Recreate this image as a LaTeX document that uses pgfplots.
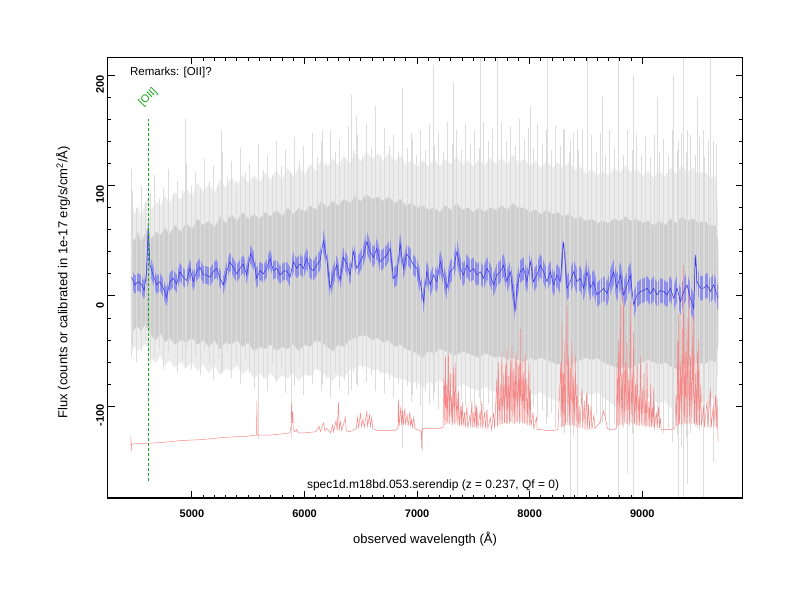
\documentclass[border=0pt]{standalone}
\usepackage{fontspec}
\setmainfont{Liberation Sans}
\usepackage{pgfplots}
\pgfplotsset{compat=1.18}
\usepackage{pgfplotstable}
\usepgfplotslibrary{fillbetween}

\definecolor{grayout}{RGB}{236,236,236}
\definecolor{grayin}{RGB}{206,206,206}
\definecolor{grayspike}{RGB}{220,220,220}
\definecolor{bandblue}{RGB}{142,142,236}
\definecolor{lineblue}{RGB}{50,50,228}
\definecolor{skyred}{RGB}{246,136,136}
\definecolor{oiigreen}{RGB}{25,165,25}

% gray raw spectrum envelopes: outer-upper, inner-upper, inner-lower, outer-lower
\pgfplotstableread{
lam ou iu il ol
4458 40 30 -20 -30
4462 115 55 -35 -55
4490 80 50 -30 -50
4520 90 58 -28 -58
4550 78 48 -32 -52
4580 95 56 -26 -48
4610 100 62 -30 -55
4640 88 52 -36 -66
4680 98 58 -40 -70
4720 92 55 -34 -62
4760 104 62 -42 -72
4800 95 56 -38 -66
4850 108 64 -44 -74
4900 100 58 -40 -68
4950 114 66 -42 -76
5000 104 60 -38 -70
5050 120 70 -44 -80
5100 110 64 -40 -72
5150 118 68 -46 -82
5200 108 62 -40 -74
5250 124 72 -48 -84
5300 114 66 -42 -78
5350 126 74 -44 -80
5400 116 68 -40 -74
5450 128 76 -46 -84
5500 118 70 -42 -78
5550 130 74 -50 -88
5600 120 70 -46 -82
5650 132 76 -48 -90
5700 122 72 -44 -84
5750 134 78 -50 -92
5800 124 72 -46 -86
5850 136 80 -48 -90
5900 126 74 -44 -84
5950 138 80 -50 -92
6000 128 76 -44 -86
6050 142 82 -46 -88
6100 132 78 -40 -80
6150 146 86 -42 -84
6200 136 80 -46 -88
6250 148 86 -50 -92
6300 138 82 -44 -86
6350 150 88 -46 -90
6400 140 84 -40 -82
6450 152 90 -38 -80
6500 142 86 -36 -78
6550 154 92 -36 -80
6600 144 88 -40 -82
6650 152 90 -38 -84
6700 142 86 -42 -86
6750 154 90 -40 -88
6800 144 84 -46 -90
6850 150 88 -44 -94
6900 140 82 -48 -92
6950 146 84 -50 -96
7000 138 80 -52 -92
7050 148 82 -56 -98
7100 140 78 -50 -94
7150 152 80 -52 -96
7200 142 76 -48 -92
7250 150 82 -50 -98
7300 144 78 -52 -100
7350 154 84 -54 -102
7400 144 78 -50 -96
7450 150 80 -52 -100
7500 142 76 -54 -102
7550 152 80 -56 -104
7600 144 76 -52 -100
7650 154 80 -54 -104
7700 146 78 -56 -106
7750 152 82 -54 -108
7800 144 78 -58 -110
7850 156 84 -56 -112
7900 146 80 -58 -108
7950 152 80 -60 -112
8000 144 76 -56 -106
8050 150 78 -58 -110
8100 142 74 -56 -106
8150 150 78 -58 -112
8200 142 74 -60 -114
8250 150 76 -62 -118
8300 144 72 -60 -116
8350 152 74 -64 -122
8400 142 70 -60 -116
8450 146 72 -58 -112
8500 138 68 -56 -108
8550 144 70 -58 -110
8600 136 66 -56 -106
8650 142 68 -60 -112
8700 136 66 -62 -116
8750 146 70 -64 -122
8800 140 68 -66 -126
8850 148 72 -64 -124
8900 140 68 -66 -128
8950 144 70 -62 -120
9000 136 66 -60 -116
9050 142 68 -58 -114
9100 134 64 -60 -118
9150 142 68 -62 -120
9200 136 64 -60 -118
9250 146 70 -64 -126
9300 140 66 -66 -130
9350 148 72 -68 -132
9400 140 68 -64 -126
9450 146 70 -62 -122
9500 138 66 -60 -118
9550 142 68 -62 -120
9600 134 64 -58 -114
9650 138 64 -60 -116
9672 90 50 -45 -80
9676 40 20 -20 -40
}\grayenv

% streaks of the raw spectrum: low and high end of each vertical stroke
\pgfplotstableread{
lam lo hi
4470 -45 95
4510 -60 80
4550 -50 100
4590 -40 85
4630 -62 92
4670 -55 110
4710 -48 88
4750 -66 98
4790 -52 115
4830 -44 92
4870 -70 104
4910 -58 96
4950 -48 120
4990 -66 100
5030 -54 112
5070 -72 96
5110 -50 124
5150 -62 104
5190 -76 118
5230 -56 100
5270 -68 130
5310 -50 108
5350 -74 122
5390 -60 104
5430 -80 134
5470 -56 112
5510 -70 120
5550 -84 106
5590 -60 138
5630 -74 114
5670 -86 128
5710 -62 110
5750 -78 140
5790 -66 118
5830 -88 132
5870 -70 112
5910 -82 144
5950 -64 122
5990 -90 136
6030 -72 116
6070 -80 148
6110 -66 126
6150 -86 140
6190 -74 120
6230 -92 150
6270 -68 130
6310 -84 142
6350 -76 124
6390 -90 154
6430 -70 132
6470 -82 146
6510 -66 126
6550 -78 156
6590 -72 134
6630 -86 144
6670 -70 128
6710 -88 152
6750 -76 136
6790 -92 146
6830 -80 130
6870 -94 156
6910 -82 134
6950 -96 148
6990 -84 128
7030 -100 150
7070 -86 132
7110 -98 156
7150 -88 136
7190 -102 148
7230 -90 130
7270 -104 158
7310 -92 138
7350 -106 150
7390 -94 132
7430 -100 156
7470 -96 138
7510 -108 150
7550 -92 134
7590 -104 158
7630 -98 140
7670 -110 152
7710 -96 134
7750 -112 158
7790 -100 140
7830 -114 154
7870 -102 136
7910 -116 160
7950 -104 142
7990 -110 152
8030 -100 134
8070 -112 156
8110 -104 138
8150 -116 150
8190 -106 132
8230 -120 154
8270 -110 136
8310 -124 150
8350 -114 130
8390 -126 148
8430 -116 132
8470 -110 150
8510 -104 128
8550 -114 146
8590 -108 130
8630 -116 148
8670 -112 128
8710 -122 150
8750 -116 134
8790 -130 146
8830 -120 128
8870 -132 150
8910 -124 132
8950 -118 146
8990 -112 128
9030 -120 144
9070 -114 126
9110 -122 146
9150 -118 130
9190 -124 142
9230 -120 128
9270 -132 150
9310 -126 132
9350 -136 148
9390 -128 130
9430 -124 146
9470 -118 128
9510 -122 144
9550 -116 126
9590 -120 140
9630 -112 124
9660 -118 138
}\streaks

% smoothed spectrum: flux and error
\pgfplotstableread{
lam f e
4464 17 8
4493 10 8
4523 13 8
4553 10 8
4576 5 8
4597 22 9
4612 62 9
4627 28 9
4656 19 8
4686 10 8
4716 13 8
4745 7 8
4775 -1 8
4804 13 8
4834 16 8
4864 11 8
4893 22 8
4923 17 8
4953 14 8
4982 25 8
5012 13 8
5042 22 8
5071 26 8
5101 19 8
5130 19 8
5160 17 8
5190 22 8
5219 25 8
5249 16 8
5279 10 8
5308 22 8
5338 31 8
5367 26 8
5397 20 8
5427 25 8
5456 29 8
5486 19 8
5521 38 8
5551 31 8
5575 16 9
5605 23 8
5634 20 8
5664 25 8
5693 34 8
5723 23 8
5753 25 8
5782 19 8
5812 22 8
5842 23 8
5871 17 9
5901 31 9
5930 25 9
5960 29 9
5990 25 9
6019 34 9
6049 25 9
6079 23 9
6108 28 9
6138 32 9
6167 50 10
6197 34 9
6227 7 10
6256 19 9
6286 28 9
6316 14 9
6345 35 9
6375 29 9
6405 19 9
6434 40 9
6464 25 9
6494 31 9
6523 37 9
6553 49 10
6582 40 9
6612 35 9
6642 43 9
6671 31 9
6701 34 9
6731 37 9
6760 43 9
6790 16 9
6820 19 9
6849 47 10
6879 25 9
6908 38 9
6938 34 9
6968 28 9
6997 25 9
7027 13 10
7056 -5 10
7086 22 10
7116 10 10
7146 19 10
7175 13 10
7205 31 10
7234 19 10
7264 7 10
7294 22 10
7323 25 10
7353 40 11
7383 25 10
7412 19 10
7442 28 10
7471 22 10
7501 25 10
7531 19 10
7560 22 10
7590 16 10
7620 25 10
7649 19 10
7679 10 10
7708 19 10
7738 22 10
7768 28 10
7797 13 10
7827 22 10
7857 1 11
7871 -14 11
7886 7 11
7916 22 10
7946 25 10
7975 13 10
8005 31 10
8034 13 10
8064 19 10
8094 28 10
8123 22 10
8153 13 10
8183 22 10
8212 10 10
8242 19 10
8271 13 11
8301 49 12
8331 7 11
8360 13 11
8390 22 11
8420 13 11
8449 16 11
8479 7 11
8509 22 11
8538 7 11
8568 13 11
8597 1 11
8627 4 11
8657 7 11
8686 2 11
8716 13 11
8746 22 11
8775 7 12
8805 19 12
8834 1 12
8864 10 12
8894 19 12
8923 -8 12
8953 1 11
8983 4 11
9012 5 11
9042 7 11
9071 2 11
9101 7 11
9131 1 11
9160 5 11
9190 4 11
9220 1 11
9249 7 11
9279 -2 11
9309 7 12
9338 -5 12
9368 4 12
9397 10 12
9427 -2 12
9457 -11 12
9471 37 12
9486 13 12
9516 7 11
9546 7 11
9575 10 11
9605 4 11
9634 10 11
9673 -2 11
}\bluetab

\begin{document}
\begin{tikzpicture}
\path (0pt,0pt) rectangle (800pt,600pt);
\begin{axis}[
  at={(107.5pt,102pt)}, anchor=south west,
  width=635pt, height=440.5pt, scale only axis,
  xmin=4250, xmax=9890, ymin=-183, ymax=216,
  xtick={5000,6000,7000,8000,9000}, minor x tick num=9,
  ytick={-100,0,100,200}, minor y tick num=4,
  tick pos=both, tick align=inside,
  major tick length=7pt, minor tick length=3.5pt,
  axis line style={line width=1.4pt},
  every tick/.style={black, line width=1pt},
  /pgf/number format/assume math mode=true,
  /pgf/number format/1000 sep={},
  ticklabel style={font=\fontsize{11}{13}\selectfont\bfseries},
  xticklabel style={yshift=-8pt},
  yticklabel style={rotate=90, anchor=south, xshift=-9pt},
  xlabel={observed wavelength (Å)},
  ylabel={Flux (counts or calibrated in 1e-17 erg/s/cm\textsuperscript{2}/Å)},
  label style={font=\fontsize{13}{15}\selectfont},
  xlabel style={at={(axis description cs:0.5,0)}, anchor=center, yshift=-41pt},
  ylabel style={at={(axis description cs:-0.0701,0.49)}, anchor=center},
  clip=true,
  axis on top,
]
% raw spectrum (gray)
\addplot[name path=ou, draw=none, forget plot] table[x=lam, y expr={0.5*(\thisrow{ou}+\thisrow{iu})+8}]{\grayenv};
\addplot[name path=ol, draw=none, forget plot] table[x=lam, y expr={0.5*(\thisrow{ol}+\thisrow{il})-6}]{\grayenv};
\addplot[grayout, forget plot] fill between[of=ou and ol];
\addplot[draw=none, mark=none, forget plot,
  error bars/.cd, y dir=plus, y explicit,
  error mark=none, error bar style={grayspike, line width=0.6pt}]
  table[x=lam, y=lo, y error plus expr=\thisrow{hi}-\thisrow{lo}]{\streaks};
\addplot[grayspike, line width=0.6pt, unbounded coords=jump, forget plot] coordinates {
(4464,-55) (4464,115) (4465,nan)
(4938,-65) (4938,160) (4939,nan)
(5264,-70) (5264,150) (5265,nan)
(5590,-130) (5590,130) (5591,nan)
(5886,-129) (5886,110) (5887,nan)
(6160,-80) (6160,150) (6161,nan)
(6419,-85) (6419,182) (6420,nan)
(6464,-80) (6464,163) (6465,nan)
(6627,-85) (6627,172) (6628,nan)
(6864,-138) (6864,188) (6865,nan)
(6953,-90) (6953,142) (6954,nan)
(7042,-140) (7042,120) (7043,nan)
(7145,-95) (7145,209) (7146,nan)
(7323,-100) (7323,194) (7324,nan)
(7560,-100) (7560,230) (7561,nan)
(7708,-100) (7708,230) (7709,nan)
(8005,-110) (8005,172) (8006,nan)
(8153,-110) (8153,230) (8154,nan)
(8301,-120) (8301,151) (8302,nan)
(8360,-190) (8360,140) (8361,nan)
(8420,-190) (8420,150) (8421,nan)
(8508,-110) (8508,230) (8509,nan)
(8642,-115) (8642,180) (8643,nan)
(8790,-190) (8790,230) (8791,nan)
(8864,-160) (8864,150) (8865,nan)
(8923,-190) (8923,200) (8924,nan)
(9131,-115) (9131,180) (9132,nan)
(9279,-120) (9279,200) (9280,nan)
(9323,-190) (9323,140) (9324,nan)
(9368,-190) (9368,230) (9369,nan)
(9397,-170) (9397,150) (9398,nan)
(9486,-120) (9486,180) (9487,nan)
(9546,-190) (9546,150) (9547,nan)
(9605,-120) (9605,230) (9606,nan)
(9635,-150) (9635,140)
};
\addplot[name path=iu, draw=none, forget plot] table[x=lam, y=iu]{\grayenv};
\addplot[name path=il, draw=none, forget plot] table[x=lam, y=il]{\grayenv};
\addplot[grayin, forget plot] fill between[of=iu and il];
% sky spectrum (red)
\addplot[skyred, line width=0.5pt, forget plot] coordinates {
(4458,-127) (4460,-141) (4464,-134) (4700,-133) (4900,-131) (5100,-130) (5300,-128) (5500,-127) (5565,-126) (5574,-126) (5577,-95) (5580,-126) (5700,-126) (5800,-125) (5870,-124) (5880,-118) (5886,-97) (5892,-115) (5896,-105) (5900,-120) (5910,-123) (5930,-121) (5945,-124) (6000,-124) (6100,-123) (6130,-118) (6140,-123) (6170,-115) (6180,-122) (6200,-120) (6230,-124) (6250,-117) (6258,-123) (6280,-113) (6290,-122) (6301,-96) (6308,-121) (6320,-114) (6330,-122) (6363,-110) (6370,-122) (6400,-123) (6460,-120) (6470,-110) (6480,-119) (6498,-106) (6505,-118) (6520,-112) (6530,-119) (6553,-105) (6560,-118) (6577,-108) (6585,-118) (6597,-110) (6605,-120) (6650,-122) (6700,-122) (6800,-122) (6830,-120) (6834,-94) (6840,-118) (6856,-100) (6862,-117) (6870,-104) (6878,-117) (6890,-102) (6897,-116) (6912,-108) (6920,-118) (6935,-105) (6942,-118) (6950,-112) (6958,-119) (6970,-110) (6980,-120) (7000,-121) (7030,-122) (7038,-123) (7040,-138) (7044,-123) (7050,-120) (7100,-120) (7200,-120) (7230,-119)
(7240,-75) (7246,-118) (7252,-55) (7258,-116) (7265,-80) (7272,-115) (7279,-52) (7286,-116) (7295,-70) (7302,-115) (7308,-90) (7315,-117) (7322,-65) (7330,-116) (7338,-60) (7345,-115) (7355,-88) (7362,-117) (7368,-85) (7375,-118) (7388,-100) (7394,-117) (7400,-95) (7408,-118) (7420,-105) (7428,-119) (7442,-100) (7450,-119) (7470,-108) (7476,-119) (7486,-95) (7494,-119) (7505,-105) (7512,-119) (7522,-98) (7528,-119) (7531,-100) (7540,-120) (7560,-104) (7566,-120) (7575,-95) (7582,-120) (7600,-105) (7608,-120) (7620,-102) (7628,-120) (7650,-110) (7660,-121) (7680,-106) (7688,-120)
(7708,-75) (7714,-118) (7722,-60) (7728,-117) (7738,-80) (7745,-116) (7753,-52) (7760,-116) (7770,-70) (7776,-115) (7786,-62) (7792,-116) (7797,-48) (7804,-115) (7814,-72) (7820,-116) (7828,-58) (7835,-114) (7842,-45) (7850,-115) (7858,-66) (7864,-116) (7872,-55) (7878,-115) (7886,-50) (7893,-114) (7903,-62) (7910,-115) (7916,-30) (7922,-114) (7932,-58) (7938,-115) (7946,-70) (7952,-116) (7960,-52) (7967,-115) (7975,-75) (7982,-117) (7993,-62) (8000,-117) (8005,-85) (8012,-118) (8030,-105) (8036,-120) (8060,-110) (8066,-121) (8100,-121) (8150,-122) (8200,-122) (8250,-121)
(8278,-60) (8284,-119) (8286,-24) (8292,-118) (8300,-70) (8306,-118) (8312,-40) (8318,-117) (8331,-8) (8338,-117) (8345,-55) (8352,-117) (8360,-65) (8366,-118) (8375,-42) (8382,-117) (8390,-75) (8396,-118) (8405,-54) (8412,-119) (8420,-80) (8428,-120)
(8440,-100) (8446,-120) (8464,-84) (8470,-120) (8485,-95) (8491,-121) (8505,-88) (8511,-121) (8523,-98) (8530,-121) (8545,-100) (8552,-121) (8570,-108) (8580,-120) (8620,-115) (8640,-110) (8657,-104) (8675,-112) (8690,-120) (8720,-121) (8750,-121) (8770,-120)
(8776,-60) (8782,-118) (8790,-40) (8796,-117) (8805,-8) (8811,-116) (8820,-70) (8826,-117) (8834,7) (8840,-115) (8850,-60) (8856,-116) (8864,-42) (8870,-116) (8880,-75) (8886,-117) (8894,-5) (8900,-115) (8910,-70) (8916,-116) (8923,-33) (8930,-116) (8940,-80) (8946,-117) (8955,-62) (8962,-117) (8970,-90) (8976,-118) (8983,-54) (8990,-117) (9000,-85) (9006,-118) (9015,-70) (9022,-118) (9030,-95) (9036,-118) (9042,-60) (9050,-118) (9060,-95) (9066,-119) (9075,-80) (9082,-119) (9090,-100) (9096,-119) (9101,-84) (9108,-119) (9125,-105) (9132,-120) (9145,-100) (9152,-120) (9160,-110) (9168,-121) (9200,-121) (9250,-121) (9290,-120)
(9300,-90) (9306,-118) (9315,-40) (9321,-117) (9323,-17) (9330,-116) (9340,-60) (9346,-117) (9355,-30) (9361,-116) (9368,28) (9374,-115) (9382,-50) (9388,-116) (9398,-20) (9404,-116) (9412,1) (9418,-115) (9428,-55) (9434,-116) (9445,-35) (9451,-116) (9457,-17) (9463,-116) (9475,-70) (9481,-117) (9490,-50) (9496,-117) (9501,-39) (9508,-117) (9520,-80) (9526,-118)
(9545,-100) (9552,-119) (9575,-95) (9582,-119) (9605,-84) (9612,-119) (9630,-100) (9636,-119) (9650,-90) (9657,-119) (9664,-93) (9670,-120) (9673,-132)
};
% smoothed spectrum with error band (blue)
\addplot[name path=bu, draw=none, forget plot] table[x=lam, y expr=\thisrow{f}+\thisrow{e}]{\bluetab};
\addplot[name path=bl, draw=none, forget plot] table[x=lam, y expr=\thisrow{f}-\thisrow{e}]{\bluetab};
\addplot[bandblue, forget plot] fill between[of=bu and bl];
\addplot[lineblue, line width=0.5pt, forget plot] table[x=lam, y=f]{\bluetab};
% [OII] marker
\addplot[oiigreen, line width=0.6pt, dash pattern=on 3pt off 2pt, forget plot] coordinates {(4610,-168) (4610,160)};
\node[oiigreen, rotate=45, font=\fontsize{11}{13}\selectfont] at (axis cs:4611,180) {[OII]};
\node[anchor=north west, inner sep=0pt, font=\fontsize{11.5}{13}\selectfont] at (axis cs:4449,207) {Remarks: [OII]?};
\node[anchor=center, inner sep=0pt, font=\fontsize{12}{14}\selectfont] at (axis cs:7142,-171.3) {spec1d.m18bd.053.serendip (z = 0.237, Qf = 0)};
\end{axis}
\end{tikzpicture}
\end{document}
